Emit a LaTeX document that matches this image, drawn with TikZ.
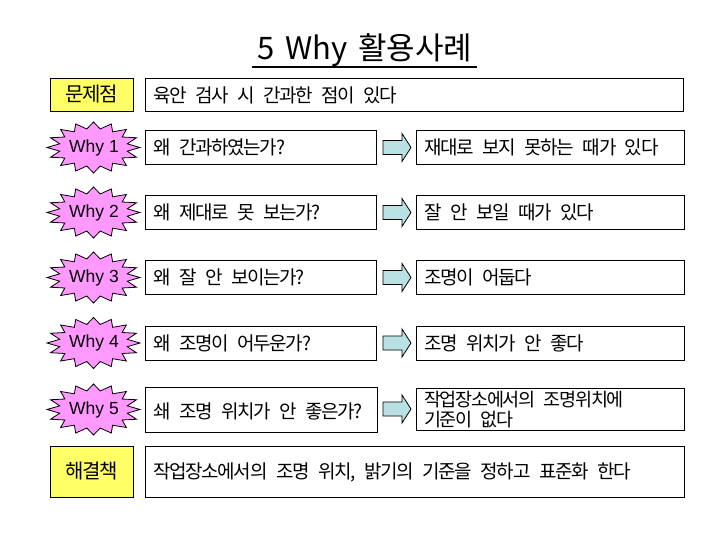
\documentclass[tikz,border=0pt]{standalone}
\usepackage{fontspec}
\setmainfont[WordSpace=2.9,LetterSpace=-7]{Noto Sans CJK KR}
\newfontfamily\titlef[WordSpace=1.5]{Noto Sans CJK KR}
\newfontfamily\latinf{Liberation Sans}
\definecolor{yel}{HTML}{FFFF66}
\definecolor{pnk}{HTML}{FF99FF}
\definecolor{arr}{HTML}{B9E0E2}
\tikzset{
  box/.style={draw=black, line width=0.9pt, fill=white, anchor=north west, inner sep=0pt},
  ybox/.style={draw=black, line width=0.9pt, fill=yel, inner sep=0pt, font=\fontsize{20}{22}\selectfont},
  txt/.style={anchor=west, inner sep=0pt, font=\fontsize{19}{21}\selectfont},
  whytxt/.style={inner sep=0pt, font=\latinf\fontsize{17.5}{20}\selectfont},
}
\newcommand{\burst}[2]{%
  \draw[line width=0.8pt, fill=pnk] plot[samples at={0,...,31}, variable=\i]
    ({93.5+46.5*(mod(\i,2)==0 ? 1 : 0.74)*cos(\i*11.25)},
     {#1+25.5*(mod(\i,2)==0 ? 1 : 0.74)*sin(\i*11.25)}) -- cycle;
  \node[whytxt] (#2) at (94,#1) {Why #2};}
\newcommand{\barrow}[2]{%
  \coordinate (ar#2) at (383,#1);
  \draw[line width=0.8pt, fill=arr] (ar#2) ++(0,-7) -- ++(19,0) -- ++(0,-7) -- ++(9,14)
    -- ++(-9,14) -- ++(0,-7) -- ++(-19,0) -- cycle;}
\begin{document}
\begin{tikzpicture}[x=1pt,y=-1pt]
\useasboundingbox[fill=white] (0,0) rectangle (720,540);
% title
\node[inner sep=0pt, font=\titlef\fontsize{31}{34}\selectfont] (title) at (365,50) {5 Why 활용사례};
\draw[line width=1.2pt] (252,67) -- (477,67);
% problem row
\node[ybox, minimum width=83pt, minimum height=33pt] (prob) at (91.5,94.5) {문제점};
\node[box, minimum width=538pt, minimum height=33pt] (probbox) at (145,78) {};
\node[txt] (probtxt) at (153,95) {육안 검사 시 간과한 점이 있다};
% why rows
\foreach \y/\n/\q/\a in {
  147.5/1/{왜 간과하였는가?}/{재대로 보지 못하는 때가 있다},
  212.5/2/{왜 제대로 못 보는가?}/{잘 안 보일 때가 있다},
  277.5/3/{왜 잘 안 보이는가?}/{조명이 어둡다},
  343/4/{왜 조명이 어두운가?}/{조명 위치가 안 좋다}}{
  \burst{\y}{\n}
  \node[box, minimum width=231pt, minimum height=34pt, anchor=west] (q\n) at (145,\y) {};
  \node[txt] (qt\n) at (153,\y) {\q};
  \barrow{\y}{\n}
  \node[box, minimum width=268pt, minimum height=34pt, anchor=west] (a\n) at (416,\y) {};
  \node[txt] (at\n) at (424,\y) {\a};
}
% row 5
\burst{409.5}{5}
\node[box, minimum width=232pt, minimum height=45pt, anchor=west] (q5) at (145,409.5) {};
\node[txt] (qt5) at (153,411) {쇄 조명 위치가 안 좋은가?};
\barrow{409}{5}
\node[box, minimum width=268pt, minimum height=42pt, anchor=west] (a5) at (416,409) {};
\node[txt, align=left, font=\fontsize{18.5}{20}\selectfont] (at5) at (424,410) {작업장소에서의 조명위치에\\기준이 없다};
% solution row
\node[ybox, minimum width=83pt, minimum height=51pt] (sol) at (91.5,471.5) {해결책};
\node[box, minimum width=539pt, minimum height=51pt] (solbox) at (145,446) {};
\node[txt] (soltxt) at (153,472) {작업장소에서의 조명 위치, 밝기의 기준을 정하고 표준화 한다};
\end{tikzpicture}
\end{document}
